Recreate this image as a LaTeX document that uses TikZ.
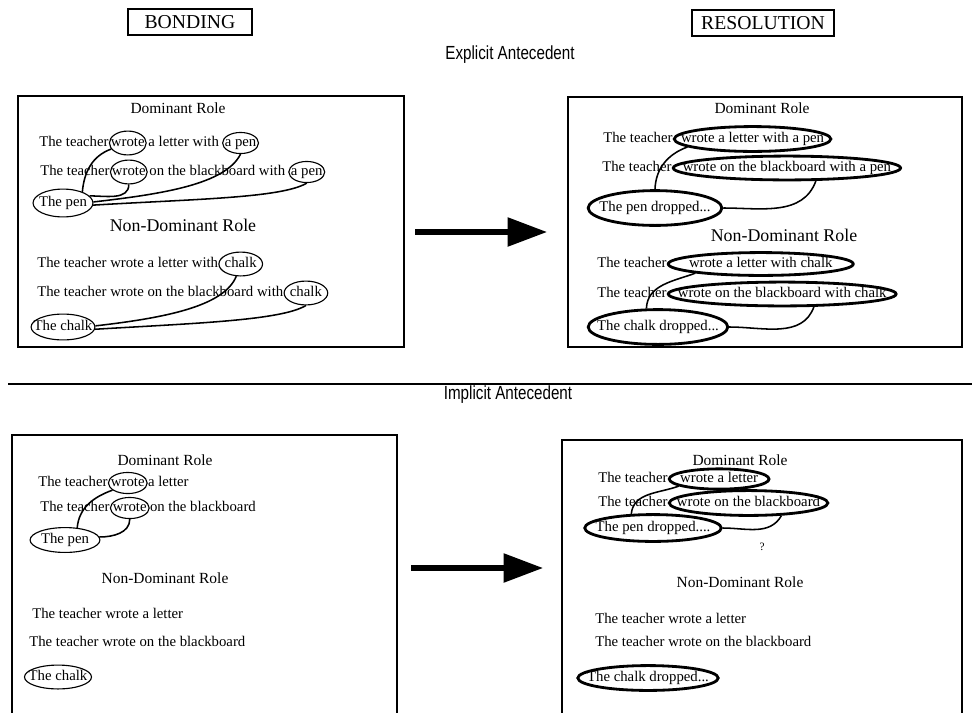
\documentclass[tikz,border=0pt]{standalone}
\usepackage{fontspec}
\setmainfont{Liberation Serif}
\newfontfamily\headsans[FakeStretch=0.8]{Liberation Sans}
\usetikzlibrary{shapes.geometric, positioning, arrows.meta}
\tikzset{
  word/.style={inner sep=0pt, text height=7pt, text depth=2pt, font=\fontsize{10.5}{12}\selectfont},
  ring/.style={word, ellipse, draw, line width=0.8pt, inner xsep=#1, inner ysep=1.5pt},
  ring/.default=-2pt,
  bigring/.style={word, ellipse, draw, line width=2pt, inner xsep=#1, inner ysep=1.5pt},
  bigring/.default=-8pt,
  role/.style={font=\fontsize{11}{13}\selectfont},
  bigrole/.style={font=\fontsize{12.7}{14}\selectfont},
  tag/.style={rectangle, draw, line width=0.9pt, minimum height=18.4pt, font=\fontsize{14}{16}\selectfont},
  secttl/.style={font=\headsans\fontsize{13.5}{15}\selectfont},
  panel/.style={line width=1pt},
  link/.style={line width=1.1pt},
  bigarrow/.style={line width=3.6pt, -{Triangle[length=28pt, width=20pt]}}
}
\begin{document}
\begin{tikzpicture}[x=0.025cm, y=-0.025cm]
  \useasboundingbox (0,0) rectangle (972,712);

  % Titles
  \node[tag, minimum width=88pt] (bonding) at (190,22) {BONDING};
  \node[tag, minimum width=101pt] (resolution) at (763,23) {RESOLUTION};
  \node[secttl] (explicit) at (510,55) {Explicit Antecedent};
  \draw[line width=2pt] (8,384) -- (972,384);
  \node[secttl] (implicit) at (508,395) {Implicit Antecedent};

  % Explicit antecedent: bonding
  \draw[panel] (18,96) rectangle (404,347);
  \node[role] (tlDom) at (178,108) {Dominant Role};
  \node[word, anchor=west] (tl1a) at (39,143) {The teacher};
  \node[ring=-2.7pt, right=0pt of tl1a] (tl1w) {wrote};
  \node[word, right=1pt of tl1w] (tl1b) {a letter with};
  \node[ring=-2.2pt, inner ysep=.8pt, right=2pt of tl1b] (tl1p) {a pen};
  \node[word, anchor=west] (tl2a) at (40,172) {The teacher};
  \node[ring=-2.7pt, right=0pt of tl2a] (tl2w) {wrote};
  \node[word, right=1pt of tl2w] (tl2b) {on the blackboard with};
  \node[ring=-2.2pt, inner ysep=.8pt, right=2pt of tl2b] (tl2p) {a pen};
  \node[ring=-2pt, inner ysep=2.5pt] (tlPen) at (63,203) {The pen};
  \node[bigrole] (tlNon) at (183,225) {Non-Dominant Role};
  \node[word, anchor=west] (tl3a) at (37,264) {The teacher wrote a letter with};
  \node[ring=-0.4pt, right=0pt of tl3a] (tl3c) {chalk};
  \node[word, anchor=west] (tl4a) at (37,293) {The teacher wrote on the blackboard with};
  \node[ring=-0.4pt, right=0pt of tl4a] (tl4c) {chalk};
  \node[ring=-4.8pt, inner ysep=2pt] (tlChalk) at (63,327) {The chalk};

  \draw[link] (tlPen.30) to[out=85, in=200] (tl1w.200);
  \draw[link] (tlPen.15) to[out=0, in=-90] (tl2w.south);
  \draw[link] (tlPen.2) .. controls +(70,-8) and +(-15,30) .. (tl1p.south);
  \draw[link] (tlPen.-4) .. controls +(100,-6) and +(-25,15) .. (tl2p.south);
  \draw[link] (tlChalk.2) .. controls +(70,-8) and +(-12,30) .. (tl3c.250);
  \draw[link] (tlChalk.-4) .. controls +(100,-6) and +(-25,15) .. (tl4c.south);

  % Explicit antecedent: resolution
  \draw[panel] (568,97) rectangle (962,347);
  \node[role] (trDom) at (762,108) {Dominant Role};
  \node[word, anchor=west] (tr1a) at (603,139) {The teacher};
  \node[bigring=-11.5pt, inner ysep=1.75pt, right=0pt of tr1a] (tr1e) {wrote a letter with a pen};
  \node[word, anchor=west] (tr2a) at (602,168) {The teacher};
  \node[bigring=-16.9pt, right=0pt of tr2a] (tr2e) {wrote on the blackboard with a pen};
  \node[bigring=-5.9pt, inner ysep=4.25pt] (trPen) at (655,208) {The pen dropped...};
  \node[bigrole] (trNon) at (784,235) {Non-Dominant Role};
  \node[word, anchor=west] (tr3a) at (597,264) {The teacher};
  \node[bigring=-4.5pt, inner ysep=1.25pt, right=0pt of tr3a] (tr3e) {wrote a letter with chalk};
  \node[word, anchor=west] (tr4a) at (597,294) {The teacher};
  \node[bigring=-16.9pt, right=0pt of tr4a] (tr4e) {wrote on the blackboard with chalk};
  \node[bigring=-8.2pt, inner ysep=4.25pt] (trChalk) at (658,327) {The chalk dropped...};

  \draw[link] (trPen.north) to[out=88, in=200] (tr1e.187);
  \draw[link] (trPen.east) to[out=0, in=-110] (tr2e.-24);
  \draw[link] (trChalk.122) to[out=88, in=200] (tr3e.188);
  \draw[link] (trChalk.east) to[out=0, in=-110] (tr4e.-22);

  % Implicit antecedent: bonding
  \draw[panel] (12,716) |- (397,435) -- (397,716);
  \node[role] (blDom) at (165,460) {Dominant Role};
  \node[word, anchor=west] (bl1a) at (38,483) {The teacher};
  \node[ring=-2.2pt, inner ysep=.8pt, right=0pt of bl1a] (bl1w) {wrote};
  \node[word, right=0pt of bl1w] (bl1b) {a letter};
  \node[word, anchor=west] (bl2a) at (40,508) {The teacher};
  \node[ring=-2.2pt, inner ysep=.8pt, right=0pt of bl2a] (bl2w) {wrote};
  \node[word, right=0pt of bl2w] (bl2b) {on the blackboard};
  \node[ring=0.5pt, inner ysep=1.75pt] (blPen) at (65,540) {The pen};
  \node[role] (blNon) at (165,578) {Non-Dominant Role};
  \node[word, anchor=west] (bl3) at (32,615) {The teacher wrote a letter};
  \node[word, anchor=west] (bl4) at (29,643) {The teacher wrote on the blackboard};
  \node[ring=-4pt] (blChalk) at (58,677) {The chalk};

  \draw[link] (blPen.45) to[out=85, in=200] (bl1w.205);
  \draw[link] (blPen.5) to[out=0, in=-90] (bl2w.south);

  % Implicit antecedent: resolution
  \draw[panel] (562,716) |- (962,440) -- (962,716);
  \node[role] (brDom) at (740,460) {Dominant Role};
  \node[word, anchor=west] (br1a) at (598,479) {The teacher};
  \node[bigring=-2.6pt, inner ysep=.6pt, right=0pt of br1a] (br1e) {wrote a letter};
  \node[word, anchor=west] (br2a) at (598,503) {The teacher};
  \node[bigring=-11pt, inner ysep=1.75pt, right=0pt of br2a] (br2e) {wrote on the blackboard};
  \node[bigring=-6.5pt, inner ysep=2.25pt] (brPen) at (653,528) {The pen dropped....};
  \node[font=\fontsize{8}{9}\selectfont] (brQ) at (762,547) {?};
  \node[role] (brNon) at (740,582) {Non-Dominant Role};
  \node[word, anchor=west] (br3) at (595,620) {The teacher wrote a letter};
  \node[word, anchor=west] (br4) at (595,643) {The teacher wrote on the blackboard};
  \node[bigring=-8pt, inner ysep=1.75pt] (brChalk) at (648,678) {The chalk dropped...};

  \draw[link] (brPen.147) to[out=85, in=200] (br1e.190);
  \draw[link] (brPen.east) to[out=0, in=-120] (br2e.-21);

  % Arrows between panels
  \coordinate (arrTopS) at (415,232);
  \coordinate (arrTopE) at (547,232);
  \coordinate (arrBotS) at (411,568);
  \coordinate (arrBotE) at (543,568);
  \draw[bigarrow] (arrTopS) -- (arrTopE);
  \draw[bigarrow] (arrBotS) -- (arrBotE);
\end{tikzpicture}
\end{document}
